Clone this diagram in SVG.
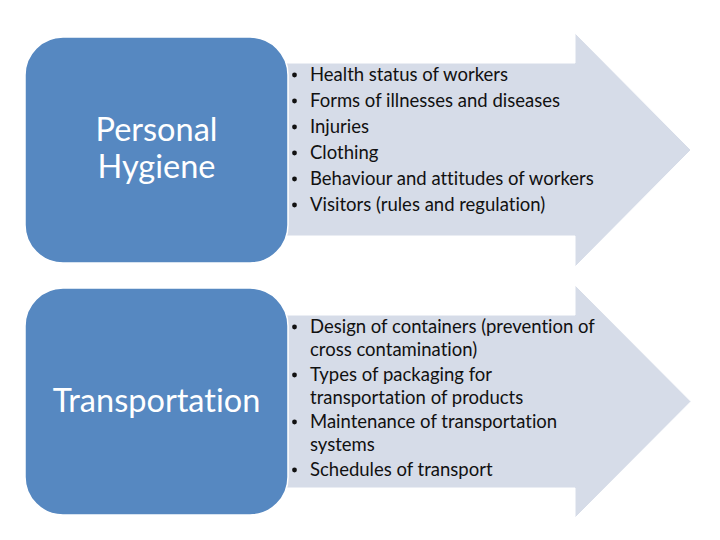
<svg xmlns="http://www.w3.org/2000/svg" width="720" height="540" viewBox="0 0 720 540">
<style>
.arrow{fill:#D6DCE8;stroke:#FFFFFF;stroke-width:1}
.box{fill:#5688C1;stroke:#FFFFFF;stroke-width:1.5}
.title{font-family:Lato,"Liberation Sans",sans-serif;font-size:32.5px;fill:#FFFFFF;text-anchor:middle;font-variant-ligatures:none}
.item{font-family:Lato,"Liberation Sans",sans-serif;font-size:18.5px;fill:#111111;font-variant-ligatures:none}
.bul{fill:#111111}
</style>
<rect width="720" height="540" fill="#FFFFFF"/>
<g id="connectors">
<path class="arrow" d="M270,63 H575 V33 L691,150 L575,267 V236 H270 Z"/>
<path class="arrow" d="M270,315 H575 V285 L691,401.5 L575,518 V488 H270 Z"/>
</g>
<g id="personal-hygiene">
<rect class="box" x="25" y="37" width="263" height="226" rx="38" ry="38"/>
<text class="title" x="156.5" y="141">Personal</text>
<text class="title" x="156.5" y="178">Hygiene</text>
</g>
<g id="personal-hygiene-list">
<circle class="bul" cx="294.5" cy="75" r="2.4"/><text class="item" x="310" y="81">Health status of workers</text>
<circle class="bul" cx="294.5" cy="101" r="2.4"/><text class="item" x="310" y="107">Forms of illnesses and diseases</text>
<circle class="bul" cx="294.5" cy="127" r="2.4"/><text class="item" x="310" y="133">Injuries</text>
<circle class="bul" cx="294.5" cy="153" r="2.4"/><text class="item" x="310" y="159">Clothing</text>
<circle class="bul" cx="294.5" cy="179" r="2.4"/><text class="item" x="310" y="185">Behaviour and attitudes of workers</text>
<circle class="bul" cx="294.5" cy="205" r="2.4"/><text class="item" x="310" y="211">Visitors (rules and regulation)</text>
</g>
<g id="transportation">
<rect class="box" x="25" y="288" width="263" height="227" rx="38" ry="38"/>
<text class="title" x="156.5" y="412">Transportation</text>
</g>
<g id="transportation-list">
<circle class="bul" cx="294.5" cy="327" r="2.4"/><text class="item" x="310" y="333">Design of containers (prevention of</text>
<text class="item" x="310" y="356">cross contamination)</text>
<circle class="bul" cx="294.5" cy="375" r="2.4"/><text class="item" x="310" y="381">Types of packaging for</text>
<text class="item" x="310" y="404">transportation of products</text>
<circle class="bul" cx="294.5" cy="422" r="2.4"/><text class="item" x="310" y="428">Maintenance of transportation</text>
<text class="item" x="310" y="451">systems</text>
<circle class="bul" cx="294.5" cy="470" r="2.4"/><text class="item" x="310" y="476">Schedules of transport</text>
</g>
</svg>
